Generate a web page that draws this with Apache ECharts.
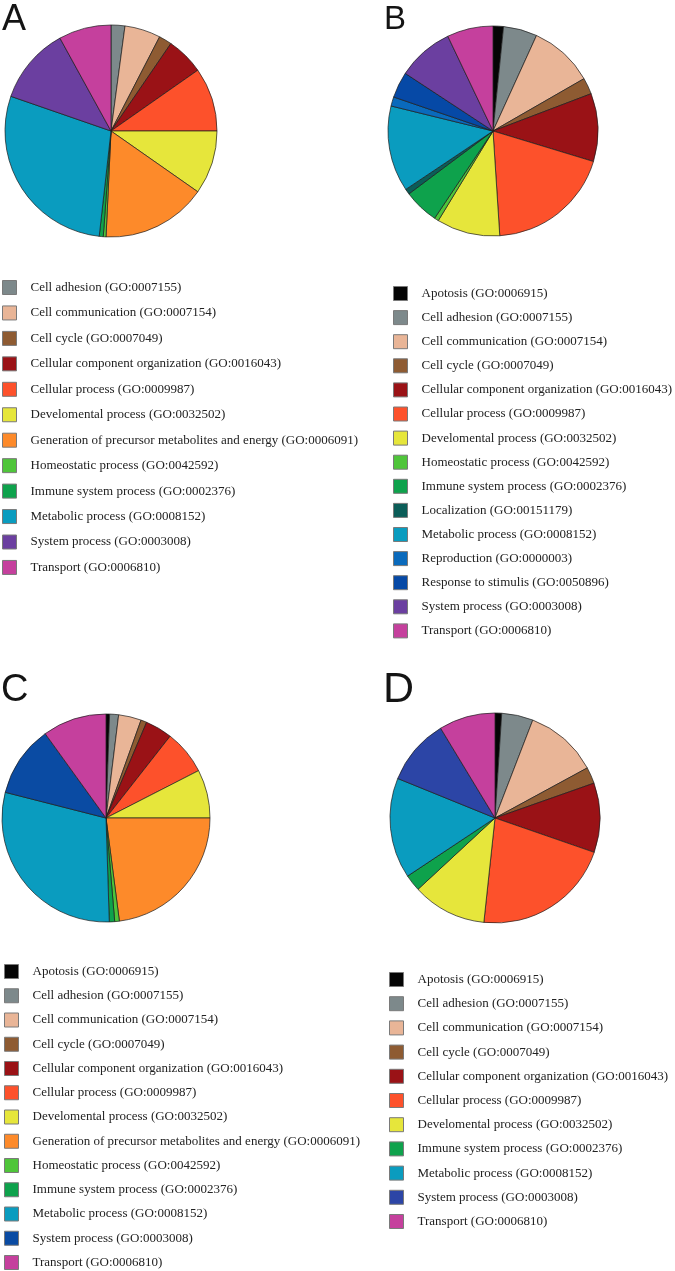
<!DOCTYPE html>
<html><head><meta charset="utf-8">
<script src="https://cdn.jsdelivr.net/npm/echarts@6/dist/echarts.min.js"></script>
<style>
html,body{margin:0;padding:0;background:#fff;width:675px;height:1271px;overflow:hidden}
.p{position:absolute}
</style></head>
<body>
<div id="pc" class="p" style="left:0;top:640px;width:370px;height:631px"></div>
<div id="pd" class="p" style="left:338px;top:640px;width:337px;height:631px"></div>
<div id="pa" class="p" style="left:0;top:0;width:370px;height:645px"></div>
<div id="pb" class="p" style="left:338px;top:0;width:337px;height:650px"></div>
<script>
// ---- data (share of pie, in degrees of arc) ----
const catsA = ["Cell adhesion (GO:0007155)","Cell communication (GO:0007154)","Cell cycle (GO:0007049)",
  "Cellular component organization (GO:0016043)","Cellular process (GO:0009987)","Develomental process (GO:0032502)",
  "Generation of precursor metabolites and energy (GO:0006091)","Homeostatic process (GO:0042592)",
  "Immune system process (GO:0002376)","Metabolic process (GO:0008152)","System process (GO:0003008)","Transport (GO:0006810)"];
const valsA = [7.6, 19.7, 7.1, 20.6, 35.0, 35.0, 57.7, 1.5, 2.2, 102.7, 42.1, 28.8];

const catsB = ["Apotosis (GO:0006915)","Cell adhesion (GO:0007155)","Cell communication (GO:0007154)","Cell cycle (GO:0007049)",
  "Cellular component organization (GO:0016043)","Cellular process (GO:0009987)","Develomental process (GO:0032502)",
  "Homeostatic process (GO:0042592)","Immune system process (GO:0002376)","Localization (GO:00151179)",
  "Metabolic process (GO:0008152)","Reproduction (GO:0000003)","Response to stimulis (GO:0050896)",
  "System process (GO:0003008)","Transport (GO:0006810)"];
const valsB = [5.8, 18.7, 35.6, 9.1, 37.7, 69.4, 35.1, 2.4, 19.4, 3.0, 47.6, 5.1, 14.4, 31.2, 25.5];

const catsC = ["Apotosis (GO:0006915)","Cell adhesion (GO:0007155)","Cell communication (GO:0007154)","Cell cycle (GO:0007049)",
  "Cellular component organization (GO:0016043)","Cellular process (GO:0009987)","Develomental process (GO:0032502)",
  "Generation of precursor metabolites and energy (GO:0006091)","Homeostatic process (GO:0042592)",
  "Immune system process (GO:0002376)","Metabolic process (GO:0008152)","System process (GO:0003008)","Transport (GO:0006810)"];
const valsC = [2.0, 5.0, 12.7, 3.3, 15.1, 24.8, 27.1, 82.6, 2.6, 3.0, 106.1, 39.9, 35.8];

const catsD = ["Apotosis (GO:0006915)","Cell adhesion (GO:0007155)","Cell communication (GO:0007154)","Cell cycle (GO:0007049)",
  "Cellular component organization (GO:0016043)","Cellular process (GO:0009987)","Develomental process (GO:0032502)",
  "Immune system process (GO:0002376)","Metabolic process (GO:0008152)","System process (GO:0003008)","Transport (GO:0006810)"];
const valsD = [3.7, 17.4, 40.4, 9.1, 38.5, 77.0, 41.1, 9.2, 55.7, 36.7, 31.2];

// ---- styles ----
const COLORS = {
  "Apotosis": "#050505", "Cell adhesion": "#7d898b", "Cell communication": "#e9b597", "Cell cycle": "#8e5b32",
  "Cellular component organization": "#9a1216", "Cellular process": "#fd512b", "Develomental process": "#e6e63b",
  "Generation of precursor metabolites and energy": "#fd8a2a", "Homeostatic process": "#4fc53a",
  "Immune system process": "#0ea24c", "Localization": "#0b5d58", "Metabolic process": "#0a9cbf",
  "Reproduction": "#0a6abc", "Response to stimulis": "#0649a6", "System process": "#6b3fa0", "Transport": "#c5409d"
};
function colorOf(name, over) {
  const key = name.replace(/ \(GO:.*\)$/, "");
  return (over && over[key]) || COLORS[key];
}

function build(id, cfg) {
  const chart = echarts.init(document.getElementById(id), null, {renderer: 'canvas'});
  const data = cfg.cats.map((c, i) => ({name: c, value: cfg.vals[i], itemStyle: {color: colorOf(c, cfg.over)}}));
  chart.setOption({
    animation: false,
    backgroundColor: 'transparent',
    title: {text: cfg.title, left: cfg.titlePos[0], top: cfg.titlePos[1], padding: 0,
      textStyle: {fontFamily: 'Liberation Sans', fontWeight: 'normal', fontSize: cfg.titleSize, color: '#141414'}},
    legend: {
      orient: 'vertical', left: cfg.legendPos[0], top: cfg.legendPos[1], padding: 0,
      itemWidth: 14, itemHeight: 14, itemGap: cfg.gap, icon: 'rect', selectedMode: false,
      itemStyle: {borderColor: '#7a7a7a', borderWidth: 1},
      formatter: n => '{g|}' + n,
      textStyle: {fontFamily: 'Liberation Serif', fontSize: 13, color: '#222', lineHeight: 14,
        rich: {g: {width: 9}}},
      data: cfg.cats
    },
    series: [{
      type: 'pie', center: cfg.center, radius: cfg.radius, startAngle: 90, clockwise: true,
      label: {show: false}, labelLine: {show: false}, emphasis: {disabled: true},
      itemStyle: {borderColor: '#1c1c1c', borderWidth: 0.7},
      data: data
    }]
  });
}

build('pa', {title: 'A', titleSize: 36, titlePos: [2, 2], cats: catsA, vals: valsA,
  center: [111, 131], radius: 106, legendPos: [2, 280], gap: 10.45});
build('pb', {title: 'B', titleSize: 33, titlePos: [46, 3], cats: catsB, vals: valsB,
  center: [155, 131], radius: 105, legendPos: [55, 286], gap: 9.1});
build('pc', {title: 'C', titleSize: 38, titlePos: [1, 32], cats: catsC, vals: valsC,
  center: [106, 178], radius: 104, legendPos: [4, 324], gap: 9.25, over: {"System process": "#0a4ba3"}});
build('pd', {title: 'D', titleSize: 43, titlePos: [45, 29], cats: catsD, vals: valsD,
  center: [157, 178], radius: 105, legendPos: [51, 332], gap: 9.2, over: {"System process": "#2c45a6"}});
</script>
</body></html>
